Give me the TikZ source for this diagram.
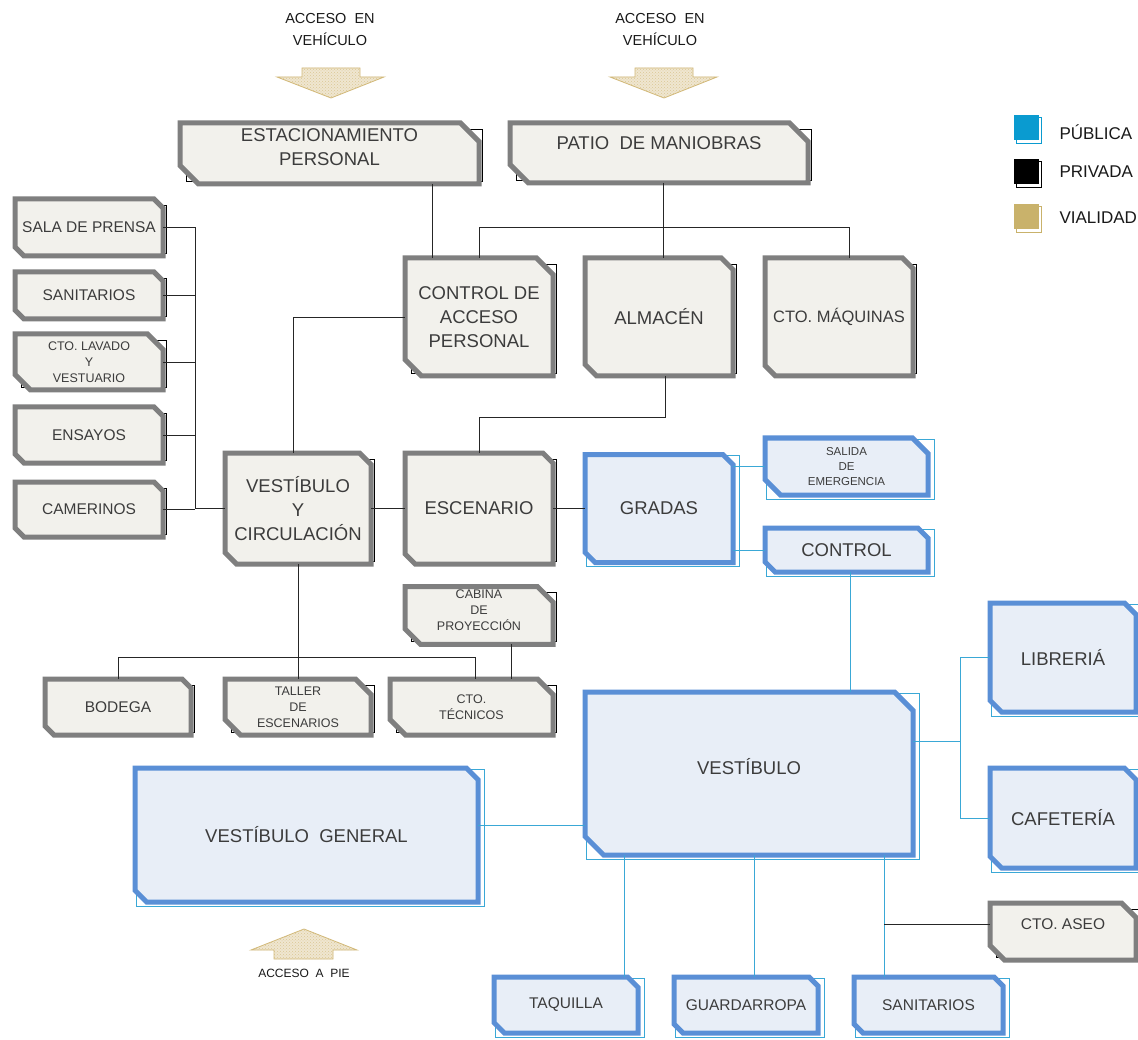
\documentclass[tikz,border=0pt]{standalone}
\usepackage{fontspec}
\setmainfont{Liberation Sans}
\usetikzlibrary{positioning,shapes.misc,calc,patterns}

\definecolor{crema}{HTML}{F2F1EC}
\definecolor{grisborde}{HTML}{7F7F7F}
\definecolor{azulborde}{HTML}{5A8FD6}
\definecolor{azulclaro}{HTML}{E8EEF7}
\definecolor{cian}{HTML}{3AA8D6}
\definecolor{texto}{HTML}{3C3C3C}
\definecolor{publicacol}{HTML}{0A9BD0}
\definecolor{vialidadcol}{HTML}{C9B26B}
\definecolor{arena}{HTML}{EFE6D0}
\definecolor{arenaborde}{HTML}{D2B979}

\tikzset{
  sala/.style={chamfered rectangle, chamfered rectangle corners={north east,south west},
    chamfered rectangle xsep=15pt, line width=5pt, inner sep=0pt, outer sep=0pt,
    align=center, text=texto, font=\fontsize{18.5}{24}\selectfont},
  privada/.style={sala, draw=grisborde, fill=crema,
    append after command={\pgfextra{\draw[black, line width=0.6pt]
      ($(\tikzlastnode.west |- \tikzlastnode.north)+(6,6)$) rectangle
      ($(\tikzlastnode.east |- \tikzlastnode.south)+(3,-3)$);}}},
  publica/.style={sala, draw=azulborde, fill=azulclaro,
    append after command={\pgfextra{\draw[cian, line width=0.8pt]
      ($(\tikzlastnode.west |- \tikzlastnode.north)+(1,1)$) rectangle
      ($(\tikzlastnode.east |- \tikzlastnode.south)+(6,4)$);}}},
  chaflan/.style={chamfered rectangle xsep=#1},
  media/.style={font=\fontsize{15.5}{20}\selectfont, chaflan=11pt},
  chica/.style={font=\fontsize{12.5}{16}\selectfont, chaflan=12pt},
  mini/.style={font=\fontsize{11.5}{15}\selectfont, chaflan=12pt},
  liga/.style={line width=0.8pt, black!85},
  ligapub/.style={line width=0.9pt, cian},
  flecha/.style={draw=arenaborde, line width=0.8pt, preaction={fill=arena},
    pattern=crosshatch dots, pattern color=arenaborde!80},
  acceso/.style={align=center, text=black!90, font=\fontsize{14.5}{22}\selectfont},
  leyenda/.style={fill=#1, minimum size=25pt, inner sep=0pt,
    append after command={\pgfextra{\draw[#1, line width=0.8pt]
      ($(\tikzlastnode.south west)+(3,3)$) rectangle ($(\tikzlastnode.north east)+(3,2)$);}}},
  leyendatxt/.style={anchor=west, text=black!90, font=\fontsize{17}{20}\selectfont}
}

\begin{document}
\begin{tikzpicture}[x=1pt, y=-1pt]
    \fill[white] (0,0) rectangle (1138,1040);
    \useasboundingbox (0,0) rectangle (1138,1040);

    % accesos
    \node[acceso] (accuno) at (330,30) {ACCESO~ EN\\VEHÍCULO};
    \node[acceso] (accdos) at (660,30) {ACCESO~ EN\\VEHÍCULO};
    \draw[flecha] (302,68) -- (360,68) -- (360,77) -- (384,77) -- (331,98) -- (277,77) -- (302,77) -- cycle;
    \draw[flecha] (635,68) -- (693,68) -- (693,77) -- (717,77) -- (664,98) -- (610,77) -- (635,77) -- cycle;
    \draw[flecha] (274,959) -- (333,959) -- (333,950) -- (357,950) -- (304,929) -- (251,950) -- (274,950) -- cycle;
    \node[acceso, font=\fontsize{12}{14}\selectfont] (accpie) at (304,973) {ACCESO~ A~ PIE};

    % leyenda
    \node[leyenda=publicacol] (lpub) at (1026,128) {};
    \node[leyendatxt] (tpub) at (1056,132) {PÚBLICA};
    \node[leyenda=black] (lpriv) at (1026,172) {};
    \node[leyendatxt] (tpriv) at (1056,172) {PRIVADA};
    \node[leyenda=vialidadcol] (lvia) at (1026,217) {};
    \node[leyendatxt] (tvia) at (1056,218) {VIALIDAD};

    % zona privada
    \node[privada, minimum width=299pt, minimum height=61pt, text depth=12pt] (estac) at (329.5,153.5) {ESTACIONAMIENTO\\PERSONAL};
    \node[privada, minimum width=298pt, minimum height=60pt, text depth=20pt] (patio) at (659,153) {PATIO~ DE MANIOBRAS};
    \node[privada, minimum width=148pt, minimum height=118pt, chaflan=13pt] (control) at (479,317) {CONTROL DE\\ACCESO\\PERSONAL};
    \node[privada, minimum width=148pt, minimum height=118pt, right=32pt of control] (almacen) {ALMACÉN};
    \node[privada, minimum width=148pt, minimum height=118pt, right=32pt of almacen, font=\fontsize{16.5}{20}\selectfont, chaflan=7pt] (maquinas) {CTO. MÁQUINAS};

    \node[privada, media, minimum width=148pt, minimum height=57pt] (prensa) at (89,227.5) {SALA DE PRENSA};
    \node[privada, media, minimum width=148pt, minimum height=47pt, below=16pt of prensa] (sanit) {SANITARIOS};
    \node[privada, chica, minimum width=148pt, minimum height=56pt, below=15pt of sanit] (lavado) {CTO. LAVADO\\Y\\VESTUARIO};
    \node[privada, media, minimum width=148pt, minimum height=56pt, below=17pt of lavado] (ensayos) {ENSAYOS};
    \node[privada, media, minimum width=148pt, minimum height=55pt, below=19pt of ensayos] (camerinos) {CAMERINOS};

    \node[privada, minimum width=146pt, minimum height=111pt, chaflan=8pt] (vestcirc) at (298,508.5) {VESTÍBULO\\Y\\CIRCULACIÓN};
    \node[privada, minimum width=148pt, minimum height=111pt] (escenario) at (479,508.5) {ESCENARIO};
    \node[privada, chica, minimum width=148pt, minimum height=57pt, text depth=10pt] (cabina) at (479,615.5) {CABINA\\DE\\PROYECCIÓN};
    \node[privada, media, minimum width=146pt, minimum height=56pt] (bodega) at (118,707) {BODEGA};
    \node[privada, chica, minimum width=146pt, minimum height=56pt] (taller) at (298,707) {TALLER\\DE\\ESCENARIOS};
    \node[privada, chica, minimum width=163pt, minimum height=56pt] (tecnicos) at (471.5,707) {CTO.\\TÉCNICOS};
    \node[privada, media, minimum width=146pt, minimum height=57pt, text depth=14pt] (aseo) at (1063,931.5) {CTO. ASEO};

    % zona publica
    \node[publica, minimum width=148pt, minimum height=108pt, right=32pt of escenario] (gradas) {GRADAS};
    \node[publica, mini, minimum width=163pt, minimum height=57pt] (salida) at (846.5,466.5) {SALIDA\\DE\\EMERGENCIA};
    \node[publica, minimum width=163pt, minimum height=44pt, chaflan=12pt] (controlpub) at (846.5,550) {CONTROL};
    \node[publica, minimum width=328pt, minimum height=163pt, chaflan=22pt, text depth=14pt] (vestibulo) at (749,773.5) {VESTÍBULO};
    \node[publica, minimum width=343pt, minimum height=134pt, chaflan=20pt] (vestgral) at (306.5,835) {VESTÍBULO~ GENERAL};
    \node[publica, minimum width=146pt, minimum height=109pt] (libreria) at (1063,657.5) {LIBRERIÁ};
    \node[publica, minimum width=146pt, minimum height=100pt] (cafeteria) at (1063,818) {CAFETERÍA};
    \node[publica, media, minimum width=144pt, minimum height=56pt] (taquilla) at (566,1005) {TAQUILLA};
    \node[publica, media, minimum width=144pt, minimum height=56pt, chaflan=9pt, right=36pt of taquilla] (guardarropa) {GUARDARROPA};
    \node[publica, media, minimum width=149pt, minimum height=56pt, right=36pt of guardarropa] (sanitpub) {SANITARIOS};

    % conexiones privadas
    \draw[liga] ([xshift=-47pt]control.north) -- ([xshift=-47pt]control.north |- estac.south);
    \draw[liga] ([xshift=4pt]patio.south) -- ([xshift=4pt]almacen.north);
    \draw[liga] (control.north) -- ++(0,-31) -| ([xshift=10pt]maquinas.north);
    \draw[liga] ([xshift=-5pt]vestcirc.north) |- (control.west);
    \coordinate (bus) at ([xshift=32pt]prensa.east);
    \draw[liga] (prensa.east) -- (bus) |- (vestcirc.west);
    \draw[liga] (sanit.east) -- (sanit.east -| bus);
    \draw[liga] (lavado.east) -- (lavado.east -| bus);
    \draw[liga] (ensayos.east) -- (ensayos.east -| bus);
    \draw[liga] (camerinos.east) -- (camerinos.east -| bus);
    \draw[liga] (vestcirc.east) -- (escenario.west);
    \draw[liga] (escenario.north) -- ++(0,-36) -| ([xshift=6pt]almacen.south);
    \draw[liga] (escenario.east) -- (gradas.west);
    \draw[liga] (vestcirc.south) -- (taller.north);
    \draw[liga] (bodega.north) -- ++(0,-22) -| ([xshift=4pt]tecnicos.north);
    \draw[liga] ([xshift=32pt]cabina.south) -- ([xshift=32pt]cabina.south |- tecnicos.north);

    % conexiones publicas
    \draw[ligapub] (gradas.east |- salida.west) -- (salida.west);
    \draw[ligapub] (gradas.east |- controlpub.west) -- (controlpub.west);
    \draw[ligapub] ([xshift=4pt]controlpub.south) -- ([xshift=4pt]controlpub.south |- vestibulo.north);
    \draw[ligapub] ([yshift=10pt]vestgral.east) -- ([yshift=10pt]vestgral.east -| vestibulo.west);
    \coordinate (ramal) at ([xshift=-30pt]libreria.west);
    \draw[ligapub] (libreria.west) -- (ramal) |- (cafeteria.west);
    \draw[ligapub] ([yshift=32pt]vestibulo.east) -- ([yshift=32pt]vestibulo.east -| ramal);
    \draw[ligapub] ([xshift=-125pt]vestibulo.south) -- ([xshift=-125pt]vestibulo.south |- taquilla.north);
    \draw[ligapub] ([xshift=5pt]vestibulo.south) -- ([xshift=5pt]vestibulo.south |- guardarropa.north);
    \coordinate (bajada) at ([xshift=135pt]vestibulo.south);
    \draw[ligapub] (bajada) -- (bajada |- sanitpub.north);
    \draw[liga] ([yshift=7pt]aseo.west) -- ([yshift=7pt]aseo.west -| bajada);
\end{tikzpicture}
\end{document}
